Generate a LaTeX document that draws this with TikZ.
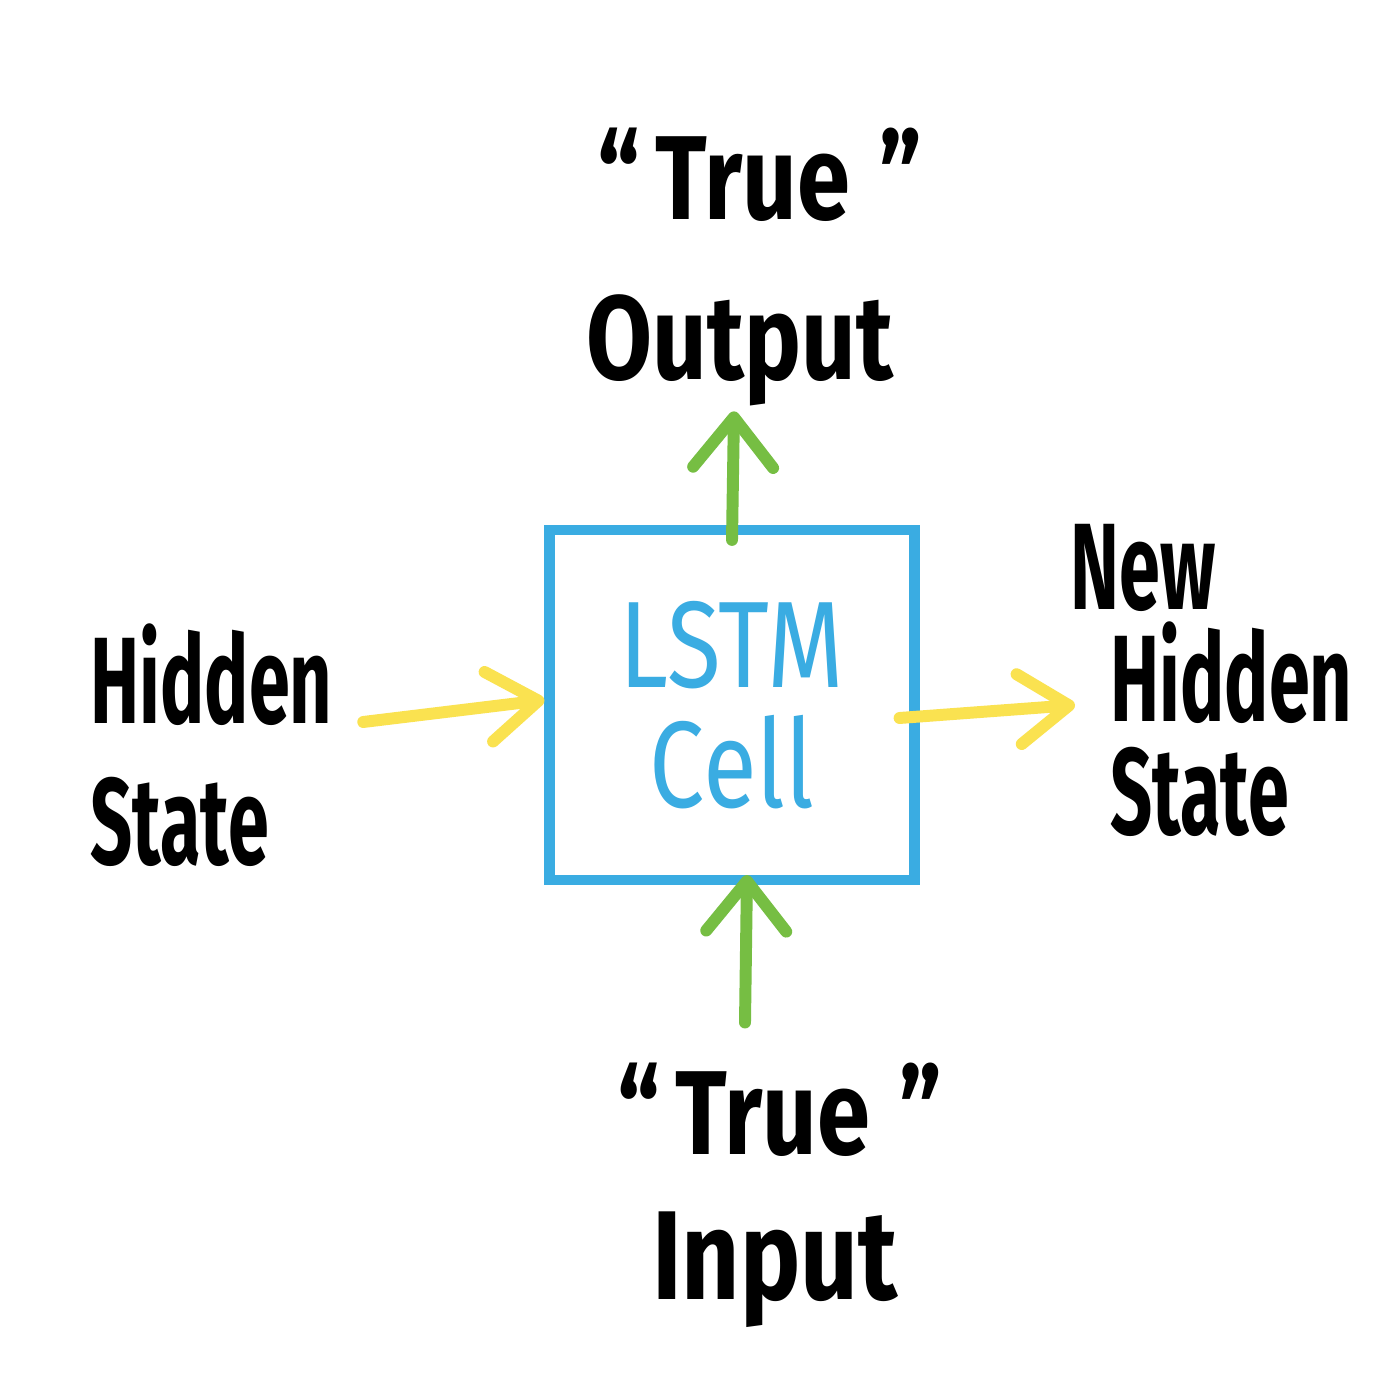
\documentclass[tikz,border=0pt]{standalone}
\usepackage{fontspec}
\setmainfont{Fira Sans}
\newfontfamily\handfont[FakeStretch=0.8]{Fira Sans}
\newfontfamily\handnarrow[FakeStretch=0.6]{Fira Sans}
\usepackage{xcolor}
\usetikzlibrary{arrows.meta,positioning}

\definecolor{lstmblue}{RGB}{58,172,226}
\definecolor{iogreen}{RGB}{118,190,67}
\definecolor{hsyellow}{RGB}{250,226,80}

\begin{document}
\begin{tikzpicture}[
  lbl/.style={font=\handfont\bfseries\fontsize{34}{40}\selectfont, align=left, inner sep=0pt},
  side/.style={lbl, font=\handnarrow\bfseries\fontsize{35}{40}\selectfont},
  cellbox/.style={draw=lstmblue, line width=2.9pt, minimum width=3.65cm, minimum height=3.5cm, align=center,
    font=\handfont\fontsize{35}{34}\selectfont, text=lstmblue},
  ioarr/.style={draw=iogreen, line width=3.4pt, line cap=round,
    -{Straight Barb[length=5mm,width=8mm,line width=3.4pt,round]}},
  hsarr/.style={draw=hsyellow, line width=3.4pt, line cap=round,
    -{Straight Barb[length=5mm,width=7mm,line width=3.4pt,round]}}]
  \useasboundingbox[fill=white] (0,0) rectangle (14,14);
  % cell
  \node[cellbox] (cell) at (7.32,6.95) {LSTM\\Cell};
  % output side
  \node[lbl] (outq) at (7.6,12.25) {“\hspace{1.5mm}True\hspace{3mm}”};
  \node[lbl] (out)  at (7.4,10.5) {Output};
  % input side
  \node[lbl] (inq) at (7.8,2.9) {“\hspace{1.5mm}True\hspace{3mm}”};
  \node[lbl, font=\handfont\bfseries\fontsize{36}{40}\selectfont] (inp) at (7.75,1.3) {Input};
  % hidden states
  \node[side, anchor=west] (hid) at (0.9,6.55) {Hidden\\State};
  \node[side, anchor=west, font=\handnarrow\bfseries\fontsize{35}{32}\selectfont] (newhid) at (10.7,7.2)
    {New\\\hspace*{4mm}Hidden\\\hspace*{4mm}State};
  % arrows
  \draw[ioarr] ([yshift=-1.5mm]cell.north) -- ([shift={(-0.6mm,-0.5mm)}]out.south);
  \draw[ioarr] ([xshift=-3.5mm,yshift=4mm]inq.north) -- ([xshift=1.5mm,yshift=1mm]cell.south);
  \draw[hsarr] ([xshift=3mm,yshift=2.3mm]hid.east) -- ([yshift=0.5mm]cell.west);
  \draw[hsarr] ([xshift=-2mm,yshift=-1.3mm]cell.east) -- ([xshift=0.5mm,yshift=-2.5mm]newhid.west);
\end{tikzpicture}
\end{document}
